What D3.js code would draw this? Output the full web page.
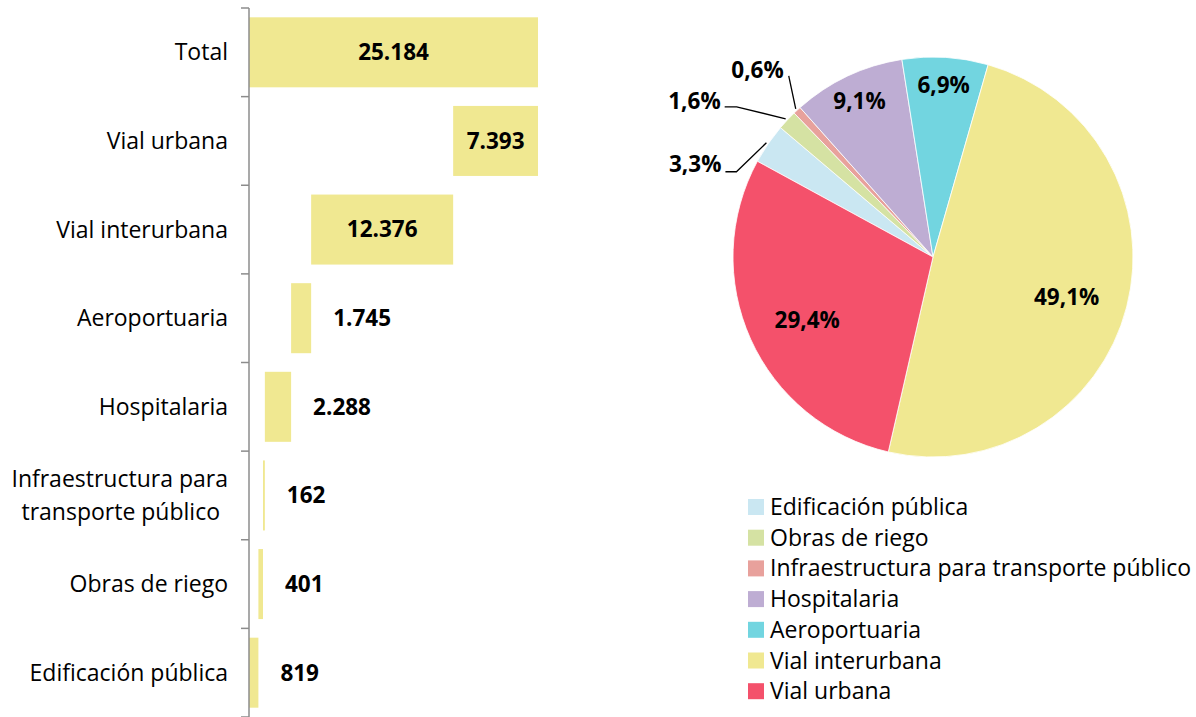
<!DOCTYPE html>
<html>
<head>
<meta charset="utf-8">
<script src="https://cdn.jsdelivr.net/npm/d3@7"></script>
<style>
  body { margin: 0; background: #fff; }
  text { font-family: "Open Sans", Lato, sans-serif; fill: #000; }
</style>
</head>
<body>
<div id="chart"></div>
<script>
// waterfall rows, top to bottom
var categories = ["Total", "Vial urbana", "Vial interurbana", "Aeroportuaria", "Hospitalaria",
    "Infraestructura para transporte público", "Obras de riego", "Edificación pública"];
var values = [25184, 7393, 12376, 1745, 2288, 162, 401, 819];
var valueLabels = ["25.184", "7.393", "12.376", "1.745", "2.288", "162", "401", "819"];

// pie slices, legend order
var pieNames = ["Edificación pública", "Obras de riego", "Infraestructura para transporte público",
    "Hospitalaria", "Aeroportuaria", "Vial interurbana", "Vial urbana"];
var pieValues = [819, 401, 162, 2288, 1745, 12376, 7393];
var pieLabels = ["3,3%", "1,6%", "0,6%", "9,1%", "6,9%", "49,1%", "29,4%"];
var pieColors = ["#cae7f2", "#d5e2a3", "#e8a19c", "#beadd3", "#72d5e0", "#f0e891", "#f4516b"];

var svgWidth = 1196;
var svgHeight = 717;
var barColor = "#f0e891";
var labelSize = "23px";
var boldSize = "22.5px";

var svg = d3.select("#chart").append("svg").attr("width", svgWidth).attr("height", svgHeight);

// ---------- waterfall ----------
var xScale = d3.scaleLinear().domain([0, 25184]).range([249, 538]);
var yScale = d3.scaleBand().domain(categories).range([8, 717]).paddingInner(0.21).paddingOuter(0.105);
var step = yScale.step();

// start of each bar: total from 0, the others stacked from the bottom up
var starts = [];
var running = 0;
for (var i = categories.length - 1; i >= 1; i--) {
    starts[i] = running;
    running += values[i];
}
starts[0] = 0;

var rows = categories.map(function(c, i) {
    return {cat: c, value: values[i], start: starts[i], label: valueLabels[i]};
});

var barGroup = svg.append("g");
barGroup.selectAll("rect").data(rows).enter().append("rect")
    .attr("x", d => xScale(d.start))
    .attr("y", d => yScale(d.cat))
    .attr("width", d => Math.max(1.5, xScale(d.start + d.value) - xScale(d.start)))
    .attr("height", yScale.bandwidth())
    .attr("fill", barColor);

barGroup.selectAll("text.val").data(rows).enter().append("text")
    .attr("class", "val")
    .attr("x", function(d) {
        var w = xScale(d.start + d.value) - xScale(d.start);
        return w > 70 ? xScale(d.start + d.value / 2) : xScale(d.start + d.value) + 22;
    })
    .attr("text-anchor", function(d) {
        var w = xScale(d.start + d.value) - xScale(d.start);
        return w > 70 ? "middle" : "start";
    })
    .attr("y", d => yScale(d.cat) + yScale.bandwidth() / 2)
    .attr("dy", "0.35em")
    .attr("font-size", boldSize)
    .attr("font-weight", "bold")
    .text(d => d.label);

// axis line with ticks between the bands
var axis = svg.append("g").attr("stroke", "#8c8c8c").attr("stroke-width", 1.5);
axis.append("line").attr("x1", 249).attr("x2", 249).attr("y1", 8).attr("y2", 717);
var bounds = categories.map(c => yScale(c) - step * 0.105).concat([yScale(categories[7]) - step * 0.105 + step]);
axis.selectAll("line.tick").data(bounds).enter().append("line")
    .attr("class", "tick")
    .attr("x1", 241).attr("x2", 249)
    .attr("y1", d => d).attr("y2", d => d);

// category labels
var catLabels = svg.append("g");
rows.forEach(function(d) {
    var cy = yScale(d.cat) + yScale.bandwidth() / 2;
    var t = catLabels.append("text").attr("text-anchor", "end").attr("font-size", labelSize);
    if (d.cat.indexOf("Infraestructura") === 0) {
        t.append("tspan").attr("x", 228).attr("y", cy - 16).attr("dy", "0.35em").text("Infraestructura para");
        t.append("tspan").attr("x", 220).attr("y", cy + 17).attr("dy", "0.35em").text("transporte público");
    } else {
        t.attr("x", 228).attr("y", cy).attr("dy", "0.35em").text(d.cat);
    }
});

// ---------- pie ----------
var cx = 933, cy = 257, radius = 200;
var total = d3.sum(pieValues);
var startDeg = 16 - 360 * (pieValues[0] + pieValues[1] + pieValues[2] + pieValues[3] + pieValues[4]) / total;
var pie = d3.pie().sort(null).startAngle(startDeg * Math.PI / 180).endAngle(startDeg * Math.PI / 180 + 2 * Math.PI);
var arcs = pie(pieValues);
arcs.forEach(function(a, i) { a.name = pieNames[i]; a.label = pieLabels[i]; a.color = pieColors[i]; });

var arc = d3.arc().innerRadius(0).outerRadius(radius);
var pieGroup = svg.append("g").attr("transform", `translate(${cx},${cy})`);
pieGroup.selectAll("path").data(arcs).enter().append("path")
    .attr("d", arc)
    .attr("fill", d => d.color)
    .attr("stroke", "#fff")
    .attr("stroke-width", 0.8);

// inside labels
var bigArc = d3.arc().innerRadius(radius * 0.69).outerRadius(radius * 0.69);
var midArc = d3.arc().innerRadius(radius * 0.86).outerRadius(radius * 0.86);
var inside = arcs.filter(d => d.value / total > 0.05);
pieGroup.selectAll("text.inside").data(inside).enter().append("text")
    .attr("class", "inside")
    .attr("transform", function(d) {
        var p = (d.value / total > 0.2 ? bigArc : midArc).centroid(d);
        return `translate(${p[0]},${p[1] + (d.value / total > 0.2 ? 6 : 0)})`;
    })
    .attr("text-anchor", "middle")
    .attr("dy", "0.35em")
    .attr("font-size", boldSize)
    .attr("font-weight", "bold")
    .text(d => d.label);

// callouts for the small slices: elbow offset from the arc edge, then a short horizontal run
var callouts = {
    "Edificación pública": {elbow: [-30, 29], run: 11, textDy: -8},
    "Obras de riego": {elbow: [-49, -12], run: 12, textDy: -6},
    "Infraestructura para transporte público": {elbow: [-7, -33], run: 0, textDy: -6}
};
var edgeArc = d3.arc().innerRadius(radius + 2).outerRadius(radius + 2);
arcs.filter(d => callouts[d.name]).forEach(function(d) {
    var c = callouts[d.name];
    var p0 = edgeArc.centroid(d);
    var p1 = [p0[0] + c.elbow[0], p0[1] + c.elbow[1]];
    var p2 = [p1[0] - c.run, p1[1]];
    pieGroup.append("path")
        .attr("d", d3.line()([p0, p1, p2]))
        .attr("fill", "none")
        .attr("stroke", "#000")
        .attr("stroke-width", 1.3);
    pieGroup.append("text")
        .attr("x", c.run > 0 ? p2[0] - 4 : p2[0] - 5)
        .attr("y", p2[1] + c.textDy)
        .attr("text-anchor", "end")
        .attr("dy", "0.35em")
        .attr("font-size", boldSize)
        .attr("font-weight", "bold")
        .text(d.label);
});

// legend
var legend = svg.append("g").attr("transform", "translate(748,507)");
var legendRows = legend.selectAll("g").data(pieNames).enter().append("g")
    .attr("transform", (d, i) => `translate(0,${i * 30.7})`);
legendRows.append("rect").attr("x", 0).attr("y", -8).attr("width", 16).attr("height", 16)
    .attr("fill", (d, i) => pieColors[i]);
legendRows.append("text").attr("x", 22).attr("y", 0).attr("dy", "0.35em")
    .attr("font-size", labelSize).text(d => d);
</script>
</body>
</html>
